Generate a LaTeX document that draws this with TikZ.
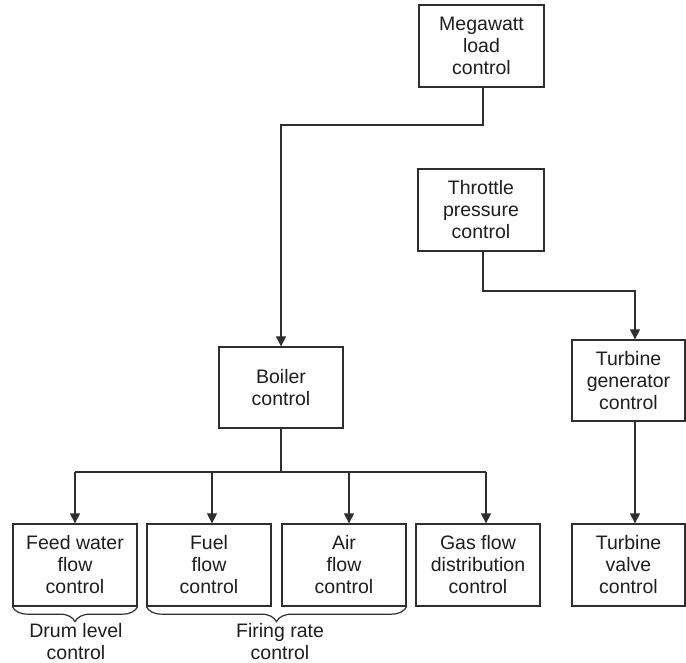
\documentclass[tikz,border=0pt]{standalone}
\usepackage{fontspec}
\setmainfont{Liberation Sans}
\usetikzlibrary{arrows.meta,decorations.pathreplacing}
\definecolor{linec}{HTML}{2E2E2E}
\definecolor{txtc}{HTML}{1E1E1E}
\begin{document}
\begin{tikzpicture}[x=1pt,y=-1pt,
  box/.style={draw=linec, line width=1.3pt, fill=white, minimum width=124pt,
    minimum height=82pt, inner sep=0pt, align=center,
    font=\fontsize{19.5}{22}\selectfont, text=txtc},
  conn/.style={draw=linec, line width=1.3pt},
  arr/.style={conn, -{Triangle[width=10pt,length=10pt]}},
  brc/.style={draw=linec, line width=1.2pt, decorate,
    decoration={brace, mirror, amplitude=15pt}},
  lbl/.style={align=center, font=\fontsize{19.5}{22}\selectfont, text=txtc, inner sep=0pt}]
\useasboundingbox (0,0) rectangle (686,663);

% boxes
\node[box, minimum width=125pt] (mw) at (481.5,46) {Megawatt\\load\\control};
\node[box, minimum width=126pt] (tp) at (481,210) {Throttle\\pressure\\control};
\node[box, minimum width=113pt, minimum height=81pt] (tg) at (628.5,380.5) {Turbine\\generator\\control};
\node[box, minimum height=81pt] (bc) at (281,387.5) {Boiler\\control};
\node[box] (fw) at (75,565) {Feed water\\flow\\control};
\node[box] (fu) at (209,565) {Fuel\\flow\\control};
\node[box] (ai) at (344,565) {Air\\flow\\control};
\node[box] (gs) at (478,565) {Gas flow\\distribution\\control};
\node[box, minimum width=113pt] (tv) at (628.5,565) {Turbine\\valve\\control};

% helper coordinates
\coordinate (mwo) at (483,87);
\coordinate (mwb) at (483,125);
\coordinate (tpo) at (483,251);
\coordinate (tpb) at (483,291);
\coordinate (tgi) at (635,291);
\coordinate (tgo) at (635,421);
\coordinate (bus) at (281,472);
\coordinate (b1) at (75,472);
\coordinate (b2) at (212,472);
\coordinate (b3) at (349,472);
\coordinate (b4) at (486,472);

% connectors
\draw[arr] (mwo) -- (mwb) -| (bc.north);
\draw[arr] (tpo) -- (tpb) -| (tgi |- tg.north);
\draw[arr] (tgo) -- (tgo |- tv.north);
\draw[conn] (bc.south) -- (bus);
\draw[conn] (b1) -- (b4);
\draw[arr] (b1) -- (b1 |- fw.north);
\draw[arr] (b2) -- (b2 |- fu.north);
\draw[arr] (b3) -- (b3 |- ai.north);
\draw[arr] (b4) -- (b4 |- gs.north);

% braces
\draw[brc] (fw.south west) -- (fw.south east);
\draw[brc] (fu.south west) -- (ai.south east);

% labels
\node[lbl] (dl) at (76,642) {Drum level\\control};
\node[lbl] (fr) at (280,642) {Firing rate\\control};
\end{tikzpicture}
\end{document}
